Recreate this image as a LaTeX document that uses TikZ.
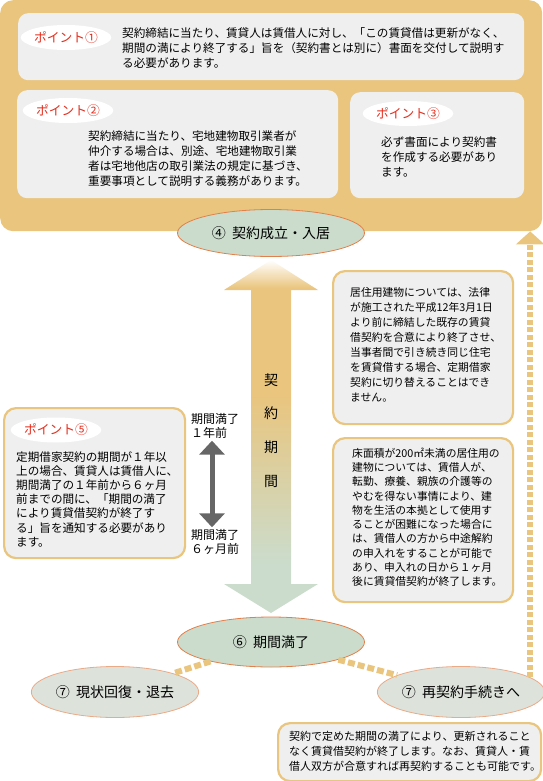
\documentclass[tikz,border=0pt]{standalone}
\usepackage{fontspec}
\setmainfont{Noto Sans CJK JP}
\usetikzlibrary{arrows.meta,calc,positioning,shapes.geometric}

\definecolor{panelTan}{RGB}{233,197,126}
\definecolor{boxGray}{RGB}{239,239,239}
\definecolor{stageGreen}{RGB}{203,220,204}
\definecolor{exitGreen}{RGB}{221,227,219}
\definecolor{rimOrange}{RGB}{226,128,76}
\definecolor{rimLight}{RGB}{234,170,136}
\definecolor{pointRed}{RGB}{228,45,28}
\definecolor{arrowGray}{RGB}{102,102,102}

\pgfdeclareverticalshading{periodshade}{100bp}{color(0bp)=(stageGreen); color(32bp)=(stageGreen); color(56bp)=(panelTan); color(71bp)=(panelTan); color(75bp)=(white); color(100bp)=(white)}

\begin{document}
\begin{tikzpicture}[
  x=1pt, y=-1pt,
  graybox/.style={fill=boxGray, rounded corners=10pt, anchor=north west, inner sep=0},
  notebox/.style={fill=boxGray, draw=panelTan, line width=2.2pt, rounded corners=12pt, anchor=north west, inner sep=0},
  pointtag/.style={ellipse, fill=white, minimum width=84pt, minimum height=25pt, inner sep=0, text=pointRed, font=\fontsize{12.8}{14}\selectfont},
  pointtext/.style={anchor=north west, align=left, inner sep=0, font=\fontsize{11.6}{15}\selectfont},
  notetext/.style={anchor=north west, align=left, inner sep=0, font=\fontsize{10.8}{14.6}\selectfont},
  stage/.style={ellipse, fill=stageGreen, draw=rimOrange, line width=0.8pt, minimum width=187pt, minimum height=47pt, inner sep=0, font=\fontsize{14}{16}\selectfont},
  exit/.style={ellipse, fill=exitGreen, draw=rimLight, line width=0.8pt, minimum width=157pt, minimum height=51pt, inner sep=0, font=\fontsize{14}{16}\selectfont},
  linkdash/.style={draw=panelTan, line width=6pt, dash pattern=on 7pt off 3pt},
  backdash/.style={draw=panelTan, line width=6pt, dash pattern=on 5pt off 2.5pt, -{Triangle[length=13pt,width=28pt]}},
  span/.style={draw=arrowGray, line width=5pt, {Triangle[length=14pt,width=25pt]}-{Triangle[length=14pt,width=25pt]}},
  kanji/.style={inner sep=0, font=\fontsize{14}{16}\selectfont}
]
\useasboundingbox (0,0) rectangle (542,781);

% top panel with points 1-3
\node[graybox, fill=panelTan, rounded corners=13pt, minimum width=542pt, minimum height=231pt] (panel) at (0,0) {};
\node[graybox, minimum width=506pt, minimum height=67pt] (b1) at (18,13) {};
\node[graybox, minimum width=321pt, minimum height=108pt] (b2) at (17,90) {};
\node[graybox, minimum width=174pt, minimum height=106pt] (b3) at (350,92) {};

\node[pointtag] (tag1) at (66,37.5) {ポイント①};
\node[pointtag] (tag2) at (68,110.5) {ポイント②};
\node[pointtag] (tag3) at (408,113.5) {ポイント③};

\node[pointtext] (txt1) at (122,27) {契約締結に当たり、賃貸人は賃借人に対し、「この賃貸借は更新がなく、\\期間の満により終了する」旨を（契約書とは別に）書面を交付して説明す\\る必要があります。};
\node[pointtext] (txt2) at (88,130) {契約締結に当たり、宅地建物取引業者が\\仲介する場合は、別途、宅地建物取引業\\者は宅地他店の取引業法の規定に基づき、\\重要事項として説明する義務があります。};
\node[pointtext, font=\fontsize{11.6}{14.6}\selectfont] (txt3) at (381,137) {必ず書面により契約書\\を作成する必要があり\\ます。};

% contract period
\shade[shading=periodshade] (271,260) -- (318,290) -- (291,290) -- (291,584) -- (318,584)
  -- (271,613) -- (224,584) -- (251,584) -- (251,290) -- (224,290) -- cycle;
\foreach \c/\y in {契/380,約/413,期/447,間/481}
  \node[kanji] (term\y) at (271,\y) {\c};

\node[stage] (e4) at (271,233) {④\hspace{0.45em}契約成立・入居};
\node[stage, minimum height=50pt] (e6) at (271,642) {⑥\hspace{0.45em}期間満了};
\node[exit] (e7l) at (115,692) {⑦\hspace{0.45em}現状回復・退去};
\node[exit] (e7r) at (461,692) {⑦\hspace{0.45em}再契約手続きへ};

% point 5
\node[notebox, minimum width=181pt, minimum height=150pt] (b5) at (3,407) {};
\node[pointtag] (tag5) at (56,430) {ポイント⑤};
\node[pointtext, font=\fontsize{11.6}{14.2}\selectfont] (txt5) at (16,451) {定期借家契約の期間が１年以\\上の場合、賃貸人は賃借人に、\\期間満了の１年前から６ヶ月\\前までの間に、「期間の満了\\により賃貸借契約が終了す\\る」旨を通知する必要があり\\ます。};

\node[anchor=center, align=left, inner sep=0, font=\fontsize{12}{14}\selectfont] (t1y) at (215,426) {期間満了\\１年前};
\node[anchor=center, align=left, inner sep=0, font=\fontsize{12}{14}\selectfont] (t6m) at (215,542) {期間満了\\６ヶ月前};
\draw[span, shorten <=2pt, shorten >=2pt] ([xshift=-3pt]t1y.south) -- ([xshift=-3pt]t6m.north);

% notes on the right
\node[notebox, minimum width=180pt, minimum height=153pt] (nA) at (332,270) {};
\node[notetext, font=\fontsize{10.8}{14.9}\selectfont] (txtA) at (350,287.5) {居住用建物については、法律\\が施工された平成12年3月1日\\より前に締結した既存の賃貸\\借契約を合意により終了させ、\\当事者間で引き続き同じ住宅\\を賃貸借する場合、定期借家\\契約に切り替えることはでき\\ません。};
\node[notebox, minimum width=180pt, minimum height=164pt] (nB) at (332,437) {};
\node[notetext, font=\fontsize{10.8}{14.3}\selectfont] (txtB) at (352,447.5) {床面積が200㎡未満の居住用の\\建物については、賃借人が、\\転勤、療養、親族の介護等の\\やむを得ない事情により、建\\物を生活の本拠として使用す\\ることが困難になった場合に\\は、賃借人の方から中途解約\\の申入れをすることが可能で\\あり、申入れの日から１ヶ月\\後に賃貸借契約が終了します。};
\node[notebox, minimum width=263pt, minimum height=58pt] (nC) at (277,722) {};
\node[notetext, font=\fontsize{11}{15}\selectfont] (txtC) at (289,731.5) {契約で定めた期間の満了により、更新されること\\なく賃貸借契約が終了します。なお、賃貸人・賃\\借人双方が合意すれば再契約することも可能です。};

% links after expiry
\draw[linkdash] (e6) -- (e7l);
\draw[linkdash] (e6) -- (e7r);
\draw[backdash] (e7r.12) -- (e7r.12 |- panel.south);

\end{tikzpicture}
\end{document}
